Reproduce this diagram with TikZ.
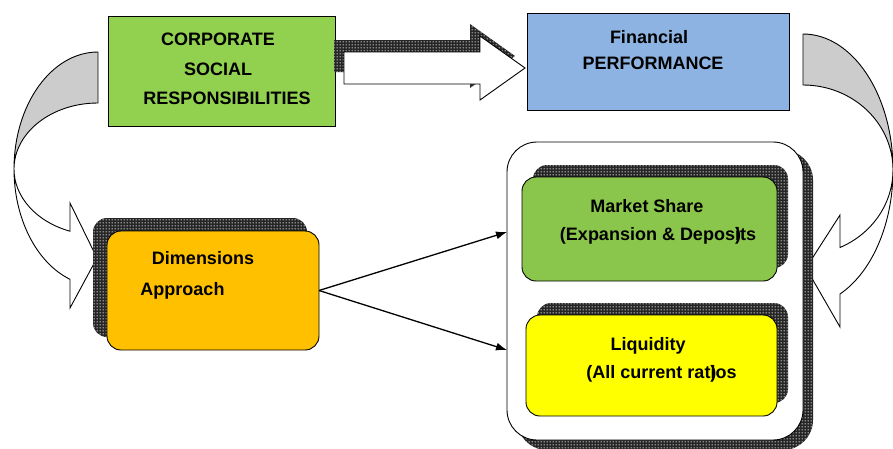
\documentclass[tikz,border=0pt]{standalone}
\usepackage{fontspec}
\setmainfont{Liberation Sans}
\usetikzlibrary{arrows.meta,patterns}

\definecolor{csrgreen}{HTML}{92D050}
\definecolor{perfblue}{HTML}{8DB3E2}
\definecolor{dimorange}{HTML}{FFC000}
\definecolor{liqyellow}{HTML}{FFFF00}
\definecolor{bendgray}{HTML}{CCCCCC}

% coarse dot grid for the shadows
\pgfdeclarepatternformonly{holes}{\pgfpointorigin}{\pgfpoint{3pt}{3pt}}{\pgfpoint{3pt}{3pt}}{%
  \pgfpathcircle{\pgfpoint{1.5pt}{1.5pt}}{0.85pt}\pgfusepath{fill}}

\tikzset{
  plainbox/.style={draw=black, line width=0.9pt, inner sep=0pt, outer sep=0pt},
  roundbox/.style={plainbox, rounded corners=14pt},
  dotshadow/.style={fill=black!85, postaction={pattern=holes, pattern color=white!90!black}},
  txt/.style={font=\fontsize{18}{20}\selectfont\bfseries, inner sep=0pt, anchor=base},
  outline/.style={draw=black, line width=0.9pt, line join=miter},
  link/.style={line width=1.3pt, -{Latex[length=11pt,width=8pt]}},
}

\begin{document}
\begin{tikzpicture}[x=1pt,y=-1pt]
\useasboundingbox (0,0) rectangle (893,448);
\clip (0,0) rectangle (893,448);

% curved arrow on the left
\path[outline, fill=bendgray] (98,52) arc[start angle=270, end angle=180, x radius=84, y radius=117]
  arc[start angle=180, end angle=270, x radius=84, y radius=66] -- cycle;
\path[outline, fill=white] (14,169) arc[start angle=180, end angle=109.47, x radius=84, y radius=117]
  -- (70,308) -- (97,258) -- (70,203) -- (70,231.2)
  arc[start angle=109.47, end angle=180, x radius=84, y radius=66] -- cycle;

% curved arrow on the right
\path[outline, fill=bendgray] (803,34) arc[start angle=270, end angle=360, x radius=90, y radius=136]
  arc[start angle=0, end angle=-90, x radius=90, y radius=85] -- cycle;
\path[outline, fill=white] (893,170) arc[start angle=0, end angle=65.7, x radius=90, y radius=136]
  -- (840,327) -- (806,268) -- (840,215) -- (840,247.5)
  arc[start angle=65.7, end angle=0, x radius=90, y radius=85] -- cycle;

% top row
\node[plainbox, fill=csrgreen, minimum width=227pt, minimum height=110pt] (csr) at (221.5,71) {};
\node[plainbox, fill=perfblue, minimum width=262pt, minimum height=97pt] (perf) at (658,61.5) {};

% block arrow from csr to perf
\path[dotshadow, shift={(-10,-12)}] (344,52) -- (480,52) -- (480,36) -- (525,68)
  -- (480,100) -- (480,84) -- (344,84) -- cycle;
\path[outline, fill=white] (344,52) -- (480,52) -- (480,36) -- (525,68)
  -- (480,100) -- (480,84) -- (344,84) -- cycle;

% dimensions box
\fill[dotshadow, rounded corners=14pt] (93,218) rectangle (307,337);
\node[roundbox, fill=dimorange, minimum width=212pt, minimum height=119pt] (dims) at (213,290.5) {};

% right hand group
\fill[dotshadow, rounded corners=30pt] (517,150) rectangle (813,450);
\node[plainbox, rounded corners=30pt, fill=white, minimum width=296pt, minimum height=298pt] (group) at (655,291) {};

\fill[dotshadow, rounded corners=14pt] (533,165) rectangle (788,268);
\node[roundbox, fill=csrgreen!95!black, minimum width=255pt, minimum height=104pt] (share) at (649.5,229) {};
\fill[dotshadow, rounded corners=14pt] (537,303) rectangle (788,403);
\node[roundbox, fill=liqyellow, minimum width=251pt, minimum height=101pt] (liq) at (651.5,365.5) {};

% texts
\node[txt] (t1) at (218,45) {CORPORATE};
\node[txt] (t2) at (218,75) {SOCIAL};
\node[txt] (t3) at (227,104) {RESPONSIBILITIES};
\node[txt] (t4) at (649,43) {Financial};
\node[txt] (t5) at (653,69) {PERFORMANCE};
\node[txt] (t6) at (203,264) {Dimensions};
\node[txt] (t7) at (182.5,295) {Approach};
\node[txt] (t8) at (647,212) {Market Share};
\node[txt] (t9) at (658,240) {(Expansion \& Depos\rlap{)}its};
\node[txt] (t10) at (648,350) {Liquidity};
\node[txt] (t11) at (661.5,378) {(All current rat\rlap{)}ios};

% links
\coordinate (toshare) at (group.west |- 0,232);
\coordinate (toliq) at (group.west |- 0,350);
\draw[link] (dims.east) -- (toshare);
\draw[link] (dims.east) -- (toliq);
\end{tikzpicture}
\end{document}
